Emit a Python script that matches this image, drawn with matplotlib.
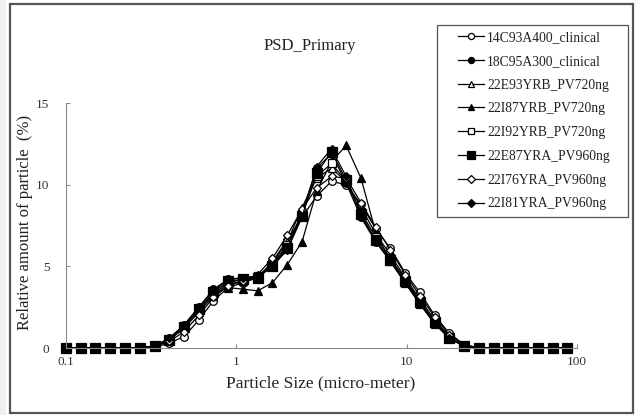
import numpy as np
import matplotlib
matplotlib.use('Agg')
import matplotlib.pyplot as plt
from matplotlib.patches import Rectangle

plt.rcParams['font.family'] = ['Liberation Serif', 'DejaVu Serif']

# particle size classes (micro-meter)
sizes = [0.1, 0.122, 0.149, 0.182, 0.222, 0.271, 0.331, 0.404, 0.493, 0.602,
         0.734, 0.896, 1.094, 1.335, 1.63, 1.99, 2.43, 2.96, 3.62, 4.41,
         5.39, 6.58, 8.03, 9.80, 11.96, 14.6, 17.8, 21.8, 26.6, 32.4,
         39.6, 48.3, 59.0, 72.0, 87.9]

z6 = [0, 0, 0, 0, 0, 0]
z7 = [0, 0, 0, 0, 0, 0, 0]

s_14C93A400 = z6 + [0.05, 0.3, 0.7, 1.7, 2.9, 3.7, 4.0, 4.3, 5.3, 6.6, 8.0, 9.3, 10.2, 10.0,
                    8.8, 7.3, 6.1, 4.6, 3.4, 2.0, 0.9, 0.2] + z7
s_18C95A300 = z6 + [0.1, 0.6, 1.4, 2.5, 3.6, 4.2, 4.3, 4.4, 5.1, 6.2, 8.3, 11.0, 11.9, 10.1,
                    8.0, 6.5, 5.3, 4.0, 2.7, 1.5, 0.6, 0.1] + z7
s_22E93YRB = z6 + [0.1, 0.5, 1.2, 2.2, 3.2, 3.9, 4.1, 4.3, 5.2, 6.5, 8.6, 10.4, 11.0, 10.2,
                   8.6, 7.0, 5.7, 4.3, 3.0, 1.7, 0.7, 0.1] + z7
s_22I87YRB = z6 + [0.1, 0.5, 1.3, 2.4, 3.3, 3.7, 3.6, 3.5, 4.0, 5.1, 6.5, 9.6, 11.4, 12.4,
                   10.4, 7.1, 5.3, 4.0, 2.7, 1.5, 0.6, 0.1] + z7
s_22I92YRB = z6 + [0.1, 0.5, 1.3, 2.3, 3.3, 4.0, 4.2, 4.4, 5.1, 6.3, 8.2, 10.5, 11.3, 10.2,
                   8.3, 6.8, 5.5, 4.2, 2.9, 1.7, 0.7, 0.1] + z7
s_22E87YRA = z6 + [0.1, 0.5, 1.3, 2.4, 3.4, 4.1, 4.2, 4.3, 5.0, 6.1, 8.1, 10.7, 12.0, 10.3,
                   8.2, 6.6, 5.4, 4.1, 2.8, 1.6, 0.6, 0.1] + z7
s_22I76YRA = z6 + [0.1, 0.4, 1.0, 2.0, 3.1, 3.8, 4.1, 4.5, 5.5, 6.9, 8.5, 9.8, 10.5, 10.4,
                   8.9, 7.4, 6.0, 4.5, 3.2, 1.9, 0.8, 0.2] + z7
s_22I81YRA = z6 + [0.1, 0.6, 1.4, 2.5, 3.5, 4.2, 4.3, 4.4, 5.0, 6.0, 8.0, 11.1, 12.2, 10.5,
                   8.1, 6.6, 5.3, 4.0, 2.7, 1.5, 0.6, 0.1] + z7

labels = ['14C93A400_clinical', '18C95A300_clinical', '22E93YRB_PV720ng',
          '22I87YRB_PV720ng', '22I92YRB_PV720ng', '22E87YRA_PV960ng',
          '22I76YRA_PV960ng', '22I81YRA_PV960ng']
series = [s_14C93A400, s_18C95A300, s_22E93YRB, s_22I87YRB,
          s_22I92YRB, s_22E87YRA, s_22I76YRA, s_22I81YRA]
markers = ['o', 'o', '^', '^', 's', 's', 'D', 'D']
filled = [False, True, False, True, False, True, False, True]
msizes = [5.5, 5.5, 5.5, 5.5, 5.5, 7, 4.5, 4.5]

fig = plt.figure(figsize=(6.37, 4.15), dpi=100)
W, H = 637, 415

# frame around the chart like the spreadsheet export
fig.patches.append(Rectangle((0, 0), 6 / W, 1, transform=fig.transFigure,
                             facecolor='#efefef', edgecolor='none'))
fig.patches.append(Rectangle((10 / W, 2 / H), 623 / W, 409 / H, transform=fig.transFigure,
                             facecolor='none', edgecolor='#555555', linewidth=1.6))
# legend box
fig.patches.append(Rectangle((437 / W, 1 - 217 / H), 191 / W, 192 / H, transform=fig.transFigure,
                             facecolor='white', edgecolor='#555555', linewidth=0.9))

ax = fig.add_axes([66 / W, 1 - 348 / H, (577 - 66) / W, (348 - 103) / H])

for y, lab, m, f, ms in zip(series, labels, markers, filled, msizes):
    ax.plot(sizes, y, color='black', linewidth=0.9, marker=m, markersize=ms,
            markerfacecolor='black' if f else 'white', markeredgecolor='black',
            markeredgewidth=0.9, label=lab, clip_on=False)

ax.set_xscale('log')
ax.set_xlim(0.1, 100)
ax.set_ylim(0, 15)
ax.set_xticks([0.1, 1, 10, 100])
ax.set_xticklabels(['0.1', '1', '10', '100'])
ax.minorticks_off()
ax.set_yticks([0, 5, 10, 15])
ax.tick_params(direction='in', length=3, color='#888888', labelsize=9.5, labelcolor='#333333')
ax.tick_params(axis='x', pad=6)
ax.tick_params(axis='y', pad=12)
ax.spines['right'].set_visible(False)
ax.spines['top'].set_visible(False)
ax.spines['left'].set_color('#888888')
ax.spines['bottom'].set_color('#888888')

fig.text(321 / W, 1 - 383 / H, 'Particle Size (micro-meter)', ha='center', va='center',
         fontsize=12.5, color='#222222')
fig.text(25 / W, 1 - 222 / H, 'Relative amount of particle  (%)', ha='center', va='center',
         rotation=90, fontsize=12, color='#222222')
fig.text(310 / W, 1 - 46 / H, 'PSD_Primary', ha='center', va='center', fontsize=12,
         color='#222222')

leg = fig.legend(loc='upper left', bbox_to_anchor=(458 / W, 1 - 31 / H),
                 bbox_transform=fig.transFigure, fontsize=9.8, frameon=False,
                 handlelength=1.9, handletextpad=0.25, markerscale=0.8,
                 labelspacing=0.79, borderpad=0.0, borderaxespad=0)
for t in leg.get_texts():
    t.set_color('#222222')

fig.savefig('out.png', dpi=100)
